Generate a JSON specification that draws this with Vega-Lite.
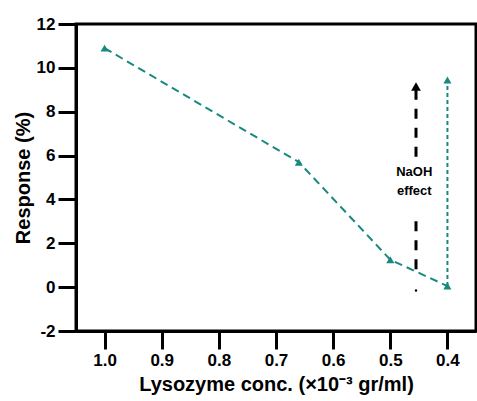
{
  "$schema": "https://vega.github.io/schema/vega-lite/v6.json",
  "width": 400,
  "height": 307,
  "autosize": "none",
  "padding": {"left": 76, "top": 24, "right": 1, "bottom": 70},
  "background": "white",
  "config": {
    "view": {"stroke": null},
    "font": "Liberation Sans",
    "axis": {
      "labelFont": "Liberation Sans", "labelFontWeight": "bold", "labelFontSize": 17, "labelColor": "black",
      "titleFont": "Liberation Sans", "titleFontWeight": "bold", "titleFontSize": 20, "titleColor": "black",
      "domainColor": "black", "domainWidth": 3, "tickColor": "black", "tickWidth": 3, "grid": false,
      "labelOverlap": false
    }
  },
  "datasets": {
    "main": [
      {"conc": 1.0, "response": 10.9},
      {"conc": 0.66, "response": 5.7},
      {"conc": 0.5, "response": 1.25},
      {"conc": 0.4, "response": 0.05}
    ],
    "naoh": [
      {"conc": 0.4, "response": 0.05, "end": "bottom"},
      {"conc": 0.4, "response": 9.45, "end": "top"}
    ],
    "arrow": [
      {"conc": 0.455, "response": 9.0, "seg": "a"},
      {"conc": 0.455, "response": 5.9, "seg": "a"},
      {"conc": 0.455, "response": 3.0, "seg": "b"},
      {"conc": 0.455, "response": 0.4, "seg": "b"}
    ],
    "dot": [{"conc": 0.455, "response": -0.15}],
    "head": [{"conc": 0.455, "response": 9.15}],
    "labels": [
      {"conc": 0.458, "response": 5.27, "text": "NaOH"},
      {"conc": 0.458, "response": 4.4, "text": "effect"}
    ],
    "frame": [{"x1": 1.05, "x2": 0.35, "y1": -2, "y2": 12}]
  },
  "layer": [
    {
      "data": {"name": "main"},
      "mark": {"type": "line", "color": "#17897f", "strokeWidth": 2, "strokeDash": [8, 5]},
      "encoding": {
        "x": {"field": "conc", "type": "quantitative",
              "scale": {"domain": [0.35, 1.05], "reverse": true, "nice": false, "zero": false},
              "axis": {"orient": "bottom",
                       "values": [0.4, 0.45, 0.5, 0.55, 0.6, 0.65, 0.7, 0.75, 0.8, 0.85, 0.9, 0.95, 1.0, 1.05],
                       "labelExpr": "round(datum.value*20) % 2 === 0 ? format(datum.value, '.1f') : ''",
                       "tickSize": {"condition": {"test": "round(datum.value*20) % 2 === 0", "value": 18}, "value": 11},
                       "labelPadding": 3, "title": "Lysozyme conc. (×10⁻³ gr/ml)", "titlePadding": 6}},
        "y": {"field": "response", "type": "quantitative",
              "scale": {"domain": [-2, 12], "nice": false, "zero": false},
              "axis": {"orient": "left",
                       "values": [-2, -1, 0, 1, 2, 3, 4, 5, 6, 7, 8, 9, 10, 11, 12],
                       "labelExpr": "round(datum.value) % 2 === 0 ? ('' + datum.value) : ''",
                       "tickSize": {"condition": {"test": "round(datum.value) % 2 === 0", "value": 18}, "value": 11},
                       "labelPadding": 3,
                       "title": "Response (%)", "titlePadding": 3}}
      }
    },
    {
      "data": {"name": "frame"},
      "mark": {"type": "rect", "fill": null, "fillOpacity": 0, "stroke": "black", "strokeWidth": 3, "clip": false},
      "encoding": {
        "x": {"field": "x1", "type": "quantitative"},
        "x2": {"field": "x2"},
        "y": {"field": "y1", "type": "quantitative"},
        "y2": {"field": "y2"}
      }
    },
    {
      "data": {"name": "main"},
      "mark": {"type": "point", "shape": "triangle-up", "filled": true, "color": "#17897f", "size": 65, "opacity": 1},
      "encoding": {
        "x": {"field": "conc", "type": "quantitative"},
        "y": {"field": "response", "type": "quantitative"}
      }
    },
    {
      "data": {"name": "naoh"},
      "mark": {"type": "line", "color": "#17897f", "strokeWidth": 2, "strokeDash": [4, 3]},
      "encoding": {
        "x": {"field": "conc", "type": "quantitative"},
        "y": {"field": "response", "type": "quantitative"}
      }
    },
    {
      "data": {"name": "naoh"},
      "transform": [{"filter": "datum.end === 'top'"}],
      "mark": {"type": "point", "shape": "triangle-up", "filled": true, "color": "#17897f", "size": 65, "opacity": 1},
      "encoding": {
        "x": {"field": "conc", "type": "quantitative"},
        "y": {"field": "response", "type": "quantitative"}
      }
    },
    {
      "data": {"name": "arrow"},
      "mark": {"type": "line", "color": "black", "strokeWidth": 3, "strokeDash": [10, 9]},
      "encoding": {
        "x": {"field": "conc", "type": "quantitative"},
        "y": {"field": "response", "type": "quantitative"},
        "detail": {"field": "seg"}
      }
    },
    {
      "data": {"name": "dot"},
      "mark": {"type": "point", "shape": "circle", "filled": true, "color": "black", "size": 6, "opacity": 1},
      "encoding": {
        "x": {"field": "conc", "type": "quantitative"},
        "y": {"field": "response", "type": "quantitative"}
      }
    },
    {
      "data": {"name": "head"},
      "mark": {"type": "point", "shape": "triangle-up", "filled": true, "color": "black", "size": 95, "opacity": 1},
      "encoding": {
        "x": {"field": "conc", "type": "quantitative"},
        "y": {"field": "response", "type": "quantitative"}
      }
    },
    {
      "data": {"name": "labels"},
      "mark": {"type": "text", "font": "Liberation Sans", "fontWeight": "bold", "fontSize": 13, "color": "black", "align": "center", "baseline": "middle"},
      "encoding": {
        "x": {"field": "conc", "type": "quantitative"},
        "y": {"field": "response", "type": "quantitative"},
        "text": {"field": "text"}
      }
    }
  ]
}
